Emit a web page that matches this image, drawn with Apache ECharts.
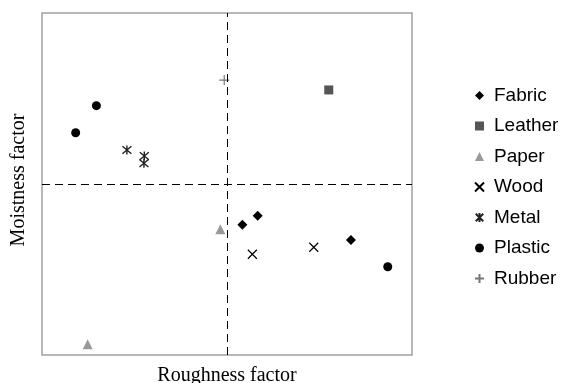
<!DOCTYPE html>
<html>
<head>
<meta charset="utf-8">
<script src="https://cdn.jsdelivr.net/npm/echarts@6/dist/echarts.min.js"></script>
<style>
  html, body { margin: 0; padding: 0; background: #fff; }
  #cn { width: 566px; height: 383px; }
</style>
</head>
<body>
<div id="cn"></div>
<script>
'use strict';

// material groups, each a list of [roughness, moistness]
const fabric = [[0.083, -0.238], [0.166, -0.185], [0.670, -0.327]];
const leather = [[0.550, 0.550]];
const paper = [[-0.036, -0.265], [-0.753, -0.937]];
const wood = [[0.137, -0.411], [0.469, -0.370]];
const metal = [[-0.541, 0.199], [-0.447, 0.164], [-0.449, 0.121]];
const plastic = [[-0.706, 0.458], [-0.818, 0.300], [0.869, -0.484]];
const rubber = [[-0.015, 0.608]];

const SYM_X = 'path://M0,0L10,10M10,0L0,10';
const SYM_STAR = 'path://M0,0L10,10M10,0L0,10M5,-1L5,11';
const SYM_PLUS = 'path://M0,5L10,5M5,0L5,10';

const groups = [
    { name: 'Fabric', data: fabric, symbol: 'diamond', size: 10, color: '#000' },
    { name: 'Leather', data: leather, symbol: 'rect', size: 9, color: '#555' },
    { name: 'Paper', data: paper, symbol: 'triangle', size: 10, color: '#999' },
    { name: 'Wood', data: wood, symbol: SYM_X, size: 9, color: '#000', line: 1.2 },
    { name: 'Metal', data: metal, symbol: SYM_STAR, size: 9, color: '#222', line: 1.4 },
    { name: 'Plastic', data: plastic, symbol: 'circle', size: 9, color: '#000' },
    { name: 'Rubber', data: rubber, symbol: SYM_PLUS, size: 10, color: '#777', line: 1.2 }
];

const chart = echarts.init(document.getElementById('cn'));

const axisCommon = {
    type: 'value',
    min: -1,
    max: 1,
    axisLine: { show: false, onZero: false },
    axisTick: { show: false },
    axisLabel: { show: false },
    splitLine: { show: false },
    nameLocation: 'middle',
    nameTextStyle: { fontFamily: 'Liberation Serif', fontSize: 20, color: '#000' }
};

let series = groups.map(g => ({
    name: g.name,
    type: 'scatter',
    data: g.data,
    symbol: g.symbol,
    symbolSize: g.size,
    itemStyle: g.line ?
        { color: 'rgba(0,0,0,0)', borderColor: g.color, borderWidth: g.line, opacity: 1 } :
        { color: g.color, opacity: 1 }
}));

// dashed zero lines
series[0].markLine = {
    silent: true,
    symbol: 'none',
    label: { show: false },
    lineStyle: { color: '#000', width: 1, type: [8, 5] },
    data: [{ xAxis: 0 }, { yAxis: 0 }]
};

let option = {
    animation: false,
    backgroundColor: '#fff',
    grid: {
        left: 42,
        right: 154,
        top: 13,
        bottom: 28,
        outerBoundsMode: 'none',
        containLabel: false,
        show: true,
        borderColor: '#a0a0a0',
        borderWidth: 1.5
    },
    xAxis: Object.assign({}, axisCommon, { name: 'Roughness factor', nameGap: 11 }),
    yAxis: Object.assign({}, axisCommon, {
        name: 'Moistness factor',
        nameGap: 13,
        nameTextStyle: { fontFamily: 'Liberation Serif', fontSize: 20, color: '#000', padding: [0, 0, 0, 8] }
    }),
    legend: {
        orient: 'vertical',
        left: 474,
        top: 86,
        padding: 0,
        itemGap: 11.5,
        itemWidth: 9,
        itemHeight: 9,
        textStyle: { fontFamily: 'Liberation Sans', fontSize: 19, color: '#000', padding: [0, 0, 0, 5] },
        data: groups.map(g => ({ name: g.name }))
    },
    series: series
};

chart.setOption(option);
</script>
</body>
</html>
